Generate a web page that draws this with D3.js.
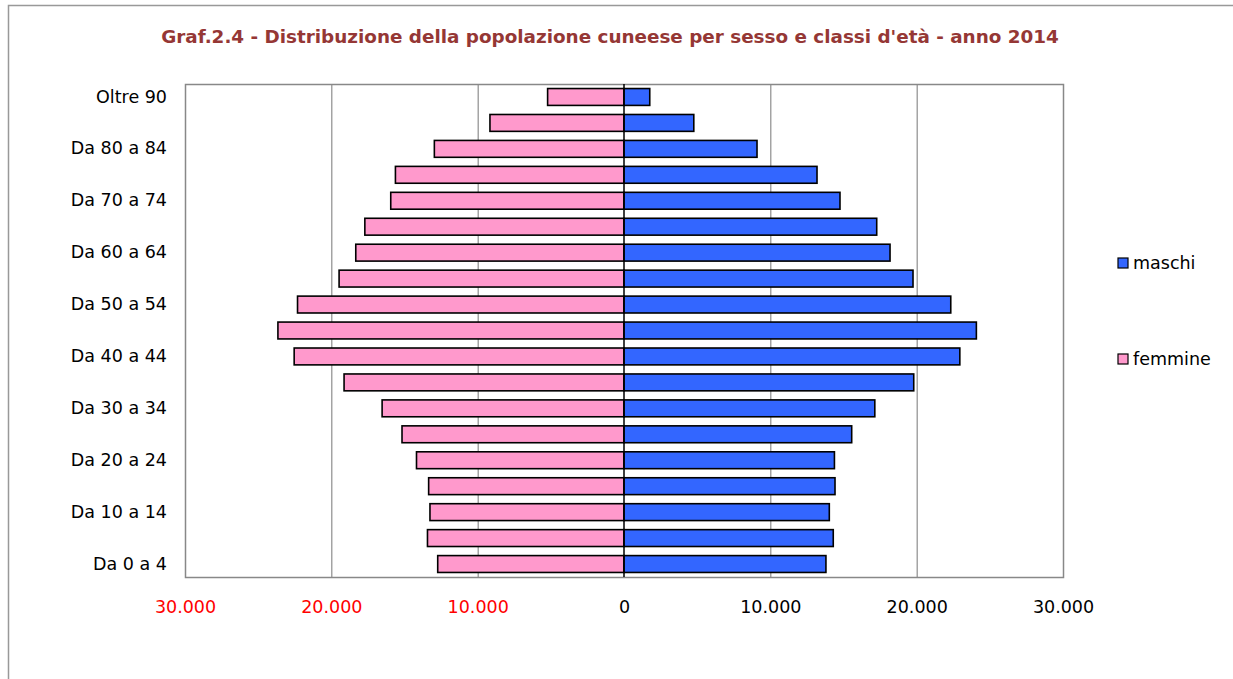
<!DOCTYPE html>
<html>
<head>
<meta charset="utf-8">
<script src="https://cdn.jsdelivr.net/npm/d3@7"></script>
<style>
body{margin:0;background:#fff}
svg text{font-family:Verdana,"DejaVu Sans",sans-serif}
</style>
</head>
<body>
<svg id="chart" width="1233" height="679"></svg>
<script>
// classi d'eta, dal basso verso l'alto
var classi = ['Da 0 a 4','Da 5 a 9','Da 10 a 14','Da 15 a 19','Da 20 a 24','Da 25 a 29','Da 30 a 34','Da 35 a 39',
	'Da 40 a 44','Da 45 a 49','Da 50 a 54','Da 55 a 59','Da 60 a 64','Da 65 a 69','Da 70 a 74','Da 75 a 79',
	'Da 80 a 84','Da 85 a 89','Oltre 90']
var maschi = [13800,14300,14030,14420,14380,15560,17140,19800,22950,24080,22330,19750,18180,17270,14760,13190,9090,4770,1760]
var femmine = [12730,13430,13260,13350,14180,15170,16530,19130,22540,23650,22310,19470,18330,17710,15940,15620,12960,9160,5220]
var xTicks = [-30000,-20000,-10000,0,10000,20000,30000]
var serie = ['maschi','femmine']
var colori = {maschi:'#3366FF',femmine:'#FF99CC'}
var titolo = "Graf.2.4 - Distribuzione della popolazione cuneese per sesso e classi d'età - anno 2014"

var svg = d3.select('svg#chart')
var pLeft = 185, pRight = 1063, pTop = 84, pBottom = 577

// cornice esterna
svg.append('rect').attr('x',8.5).attr('y',5.5).attr('width',1260).attr('height',720)
	.attr('fill','none').attr('stroke','#999').attr('stroke-width',1.5)

var t = svg.append('text').attr('x',610).attr('y',43).attr('text-anchor','middle')
	.attr('fill','#953735').attr('font-weight','bold').attr('font-size',16).text(titolo)
var w = t.node().getComputedTextLength()
t.attr('font-size',16 * 898 / w)

var x = d3.scaleLinear().domain([-30000,30000]).range([pLeft,pRight])
var y = d3.scaleBand().domain(classi).range([pBottom,pTop]).paddingInner(0.35).paddingOuter(0.175)

// griglia
svg.selectAll('line.grid')
.data(xTicks.filter(d => d != 0 && Math.abs(d) != 30000))
.enter()
.append('line')
.attr('class','grid')
.attr('x1',d => x(d)+0.5).attr('x2',d => x(d)+0.5)
.attr('y1',pTop).attr('y2',pBottom)
.attr('stroke','#777').attr('stroke-width',1)

svg.append('rect').attr('x',pLeft+0.5).attr('y',pTop+0.5).attr('width',pRight-pLeft).attr('height',pBottom-pTop)
	.attr('fill','none').attr('stroke','#888').attr('stroke-width',1.5)

svg.selectAll('rect.f')
.data(classi)
.enter()
.append('rect')
.attr('class','f')
.attr('x',(d,i) => x(-femmine[i]))
.attr('width',(d,i) => x(0) - x(-femmine[i]))
.attr('y',d => y(d))
.attr('height',y.bandwidth())
.attr('fill',colori.femmine).attr('stroke','#000').attr('stroke-width',1.6)

svg.selectAll('rect.m')
.data(classi)
.enter()
.append('rect')
.attr('class','m')
.attr('x',x(0))
.attr('width',(d,i) => x(maschi[i]) - x(0))
.attr('y',d => y(d))
.attr('height',y.bandwidth())
.attr('fill',colori.maschi).attr('stroke','#000').attr('stroke-width',1.6)

// asse zero
svg.append('line').attr('x1',x(0)).attr('x2',x(0)).attr('y1',pTop).attr('y2',pBottom)
	.attr('stroke','#000').attr('stroke-width',1.5)

// etichette asse x
var fmt = d3.formatLocale({decimal:',',thousands:'.',grouping:[3],currency:['','']}).format(',')
var xAxis = d3.axisBottom(x).tickValues(xTicks).tickSize(0).tickPadding(0)
	.tickFormat(d => fmt(Math.abs(d)))
var gx = svg.append('g').attr('transform','translate(0,' + (pBottom + 24) + ')').call(xAxis)
gx.select('.domain').remove()
gx.selectAll('text').attr('font-size',17.5).attr('font-family','Verdana,"DejaVu Sans",sans-serif')
	.attr('fill',d => d < 0 ? '#FF0000' : '#000')

// etichette asse y, una si e una no
var yAxis = d3.axisLeft(y).tickValues(classi.filter((d,i) => i % 2 == 0)).tickSize(0).tickPadding(0)
var gy = svg.append('g').attr('transform','translate(' + (pLeft - 18) + ',0)').call(yAxis)
gy.select('.domain').remove()
gy.selectAll('text').attr('font-size',17.5).attr('font-family','Verdana,"DejaVu Sans",sans-serif').attr('fill','#000')

// legenda
var leg = svg.selectAll('g.leg')
.data(serie)
.enter()
.append('g')
.attr('class','leg')
.attr('transform',(d,i) => 'translate(1118,' + (258 + i*96) + ')')
leg.append('rect').attr('width',10).attr('height',10).attr('fill',d => colori[d])
	.attr('stroke','#000').attr('stroke-width',1.2)
leg.append('text').attr('x',15).attr('y',5).attr('dy','0.35em').attr('font-size',17.5).text(d => d)
</script>
</body>
</html>
